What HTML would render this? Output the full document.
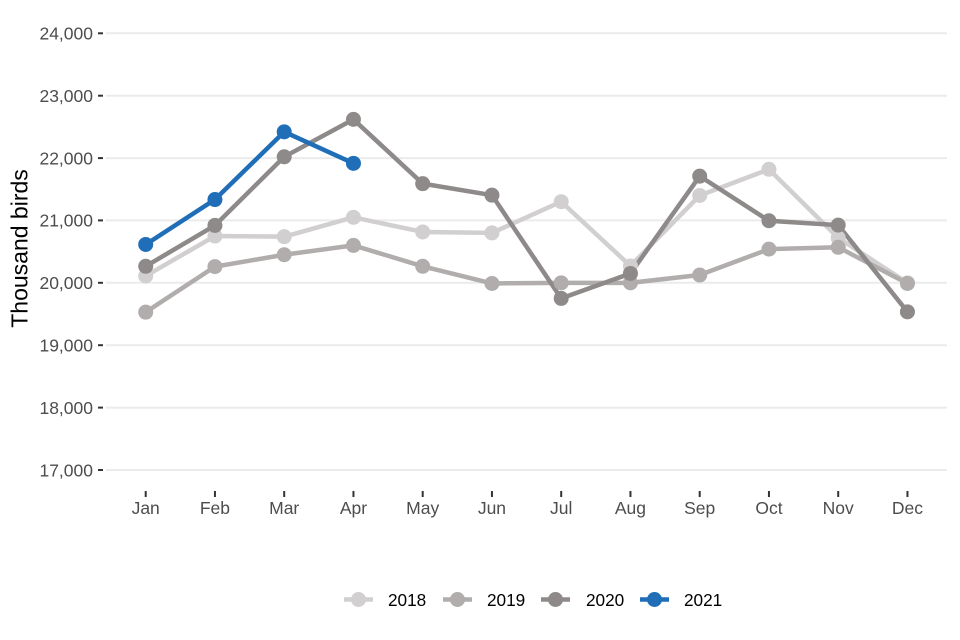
<!DOCTYPE html>
<html><head><meta charset="utf-8"><style>
html,body{margin:0;padding:0;background:#fff;}
svg{display:block;font-family:"Liberation Sans",Arial,sans-serif;}
</style></head><body>
<svg width="960" height="640" viewBox="0 0 960 640" xmlns="http://www.w3.org/2000/svg">
<rect width="960" height="640" fill="#fff"/>
<g stroke="#ebebeb" stroke-width="2">
<line x1="106" x2="947" y1="33.3" y2="33.3"/>
<line x1="106" x2="947" y1="95.7" y2="95.7"/>
<line x1="106" x2="947" y1="158.1" y2="158.1"/>
<line x1="106" x2="947" y1="220.4" y2="220.4"/>
<line x1="106" x2="947" y1="282.8" y2="282.8"/>
<line x1="106" x2="947" y1="345.2" y2="345.2"/>
<line x1="106" x2="947" y1="407.6" y2="407.6"/>
<line x1="106" x2="947" y1="470" y2="470"/>
</g>
<g stroke="#333" stroke-width="2">
<line x1="98" x2="103" y1="33.3" y2="33.3"/>
<line x1="98" x2="103" y1="95.7" y2="95.7"/>
<line x1="98" x2="103" y1="158.1" y2="158.1"/>
<line x1="98" x2="103" y1="220.4" y2="220.4"/>
<line x1="98" x2="103" y1="282.8" y2="282.8"/>
<line x1="98" x2="103" y1="345.2" y2="345.2"/>
<line x1="98" x2="103" y1="407.6" y2="407.6"/>
<line x1="98" x2="103" y1="470" y2="470"/>
<line x1="145.7" x2="145.7" y1="491" y2="497"/>
<line x1="214.95" x2="214.95" y1="491" y2="497"/>
<line x1="284.2" x2="284.2" y1="491" y2="497"/>
<line x1="353.45" x2="353.45" y1="491" y2="497"/>
<line x1="422.7" x2="422.7" y1="491" y2="497"/>
<line x1="491.95" x2="491.95" y1="491" y2="497"/>
<line x1="561.2" x2="561.2" y1="491" y2="497"/>
<line x1="630.45" x2="630.45" y1="491" y2="497"/>
<line x1="699.7" x2="699.7" y1="491" y2="497"/>
<line x1="768.95" x2="768.95" y1="491" y2="497"/>
<line x1="838.2" x2="838.2" y1="491" y2="497"/>
<line x1="907.45" x2="907.45" y1="491" y2="497"/>
</g>
<g fill="#4d4d4d" font-size="17.5" text-anchor="end">
<text x="93" y="39.6">24,000</text>
<text x="93" y="102">23,000</text>
<text x="93" y="164.4">22,000</text>
<text x="93" y="226.7">21,000</text>
<text x="93" y="289.1">20,000</text>
<text x="93" y="351.5">19,000</text>
<text x="93" y="413.9">18,000</text>
<text x="93" y="476.3">17,000</text>
</g>
<g fill="#4d4d4d" font-size="17.5" text-anchor="middle">
<text x="145.7" y="514">Jan</text>
<text x="214.95" y="514">Feb</text>
<text x="284.2" y="514">Mar</text>
<text x="353.45" y="514">Apr</text>
<text x="422.7" y="514">May</text>
<text x="491.95" y="514">Jun</text>
<text x="561.2" y="514">Jul</text>
<text x="630.45" y="514">Aug</text>
<text x="699.7" y="514">Sep</text>
<text x="768.95" y="514">Oct</text>
<text x="838.2" y="514">Nov</text>
<text x="907.45" y="514">Dec</text>
</g>
<text transform="translate(27.5,248.5) rotate(-90)" text-anchor="middle" font-size="23" fill="#000">Thousand birds</text>

<g fill="none" stroke-width="4.5" stroke-linejoin="round">
<polyline stroke="#d1cfcf" points="145.7,275.96 214.95,236.04 284.2,236.66 353.45,217.32 422.7,231.98 491.95,232.92 561.2,201.73 630.45,265.98 699.7,195.49 768.95,169.29 838.2,237.91 907.45,282.82"/>
<polyline stroke="#b0adac" points="145.7,312.14 214.95,266.6 284.2,254.75 353.45,245.39 422.7,266.29 491.95,283.44 561.2,282.82 630.45,282.82 699.7,275.02 768.95,249.13 838.2,247.26 907.45,283.44"/>
<polyline stroke="#8d8a89" points="145.7,266.29 214.95,225.43 284.2,156.81 353.45,119.38 422.7,183.64 491.95,195.18 561.2,298.42 630.45,273.46 699.7,176.15 768.95,220.75 838.2,225.12 907.45,311.83"/>
<polyline stroke="#1f6eb7" points="145.7,244.46 214.95,199.54 284.2,131.86 353.45,163.36"/>
</g>
<g fill="#d1cfcf">
<circle cx="145.7" cy="275.96" r="7.5"/><circle cx="214.95" cy="236.04" r="7.5"/><circle cx="284.2" cy="236.66" r="7.5"/><circle cx="353.45" cy="217.32" r="7.5"/><circle cx="422.7" cy="231.98" r="7.5"/><circle cx="491.95" cy="232.92" r="7.5"/><circle cx="561.2" cy="201.73" r="7.5"/><circle cx="630.45" cy="265.98" r="7.5"/><circle cx="699.7" cy="195.49" r="7.5"/><circle cx="768.95" cy="169.29" r="7.5"/><circle cx="838.2" cy="237.91" r="7.5"/><circle cx="907.45" cy="282.82" r="7.5"/>
</g>
<g fill="#b0adac">
<circle cx="145.7" cy="312.14" r="7.5"/><circle cx="214.95" cy="266.6" r="7.5"/><circle cx="284.2" cy="254.75" r="7.5"/><circle cx="353.45" cy="245.39" r="7.5"/><circle cx="422.7" cy="266.29" r="7.5"/><circle cx="491.95" cy="283.44" r="7.5"/><circle cx="561.2" cy="282.82" r="7.5"/><circle cx="630.45" cy="282.82" r="7.5"/><circle cx="699.7" cy="275.02" r="7.5"/><circle cx="768.95" cy="249.13" r="7.5"/><circle cx="838.2" cy="247.26" r="7.5"/><circle cx="907.45" cy="283.44" r="7.5"/>
</g>
<g fill="#8d8a89">
<circle cx="145.7" cy="266.29" r="7.5"/><circle cx="214.95" cy="225.43" r="7.5"/><circle cx="284.2" cy="156.81" r="7.5"/><circle cx="353.45" cy="119.38" r="7.5"/><circle cx="422.7" cy="183.64" r="7.5"/><circle cx="491.95" cy="195.18" r="7.5"/><circle cx="561.2" cy="298.42" r="7.5"/><circle cx="630.45" cy="273.46" r="7.5"/><circle cx="699.7" cy="176.15" r="7.5"/><circle cx="768.95" cy="220.75" r="7.5"/><circle cx="838.2" cy="225.12" r="7.5"/><circle cx="907.45" cy="311.83" r="7.5"/>
</g>
<g fill="#1f6eb7">
<circle cx="145.7" cy="244.46" r="7.5"/><circle cx="214.95" cy="199.54" r="7.5"/><circle cx="284.2" cy="131.86" r="7.5"/><circle cx="353.45" cy="163.36" r="7.5"/>
</g>

<g stroke-width="4.5">
<line x1="344" x2="373" y1="599.5" y2="599.5" stroke="#d1cfcf"/>
<line x1="443" x2="472" y1="599.5" y2="599.5" stroke="#b0adac"/>
<line x1="541" x2="570" y1="599.5" y2="599.5" stroke="#8d8a89"/>
<line x1="640" x2="669" y1="599.5" y2="599.5" stroke="#1f6eb7"/>
</g>
<circle cx="358.5" cy="599.5" r="7.5" fill="#d1cfcf"/>
<circle cx="457.5" cy="599.5" r="7.5" fill="#b0adac"/>
<circle cx="555.5" cy="599.5" r="7.5" fill="#8d8a89"/>
<circle cx="654.5" cy="599.5" r="7.5" fill="#1f6eb7"/>
<g fill="#000" font-size="17.2">
<text x="388" y="606.2">2018</text>
<text x="487" y="606.2">2019</text>
<text x="586" y="606.2">2020</text>
<text x="684" y="606.2">2021</text>
</g>
</svg>
</body></html>
